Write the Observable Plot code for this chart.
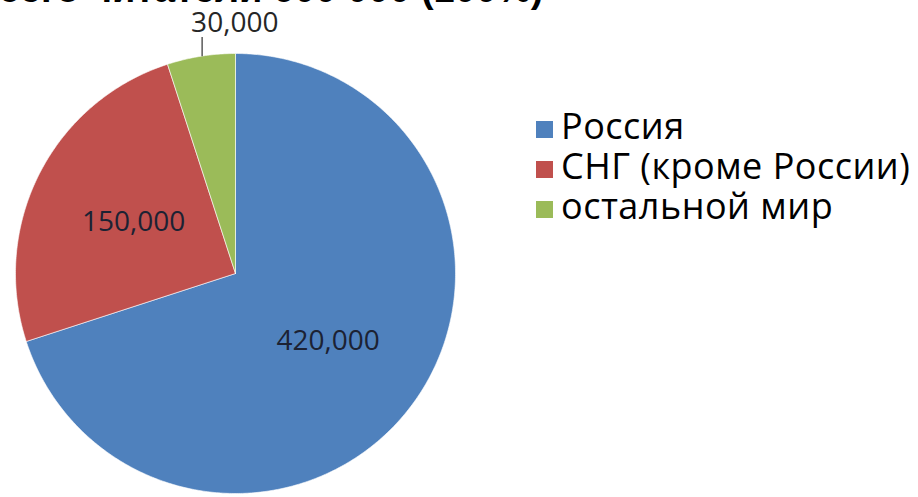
<!DOCTYPE html>
<html><head><meta charset="utf-8">
<script src="https://cdn.jsdelivr.net/npm/d3@7"></script>
<script src="https://cdn.jsdelivr.net/npm/@observablehq/plot@0.6"></script>
<style>
body{margin:0;background:#fff;overflow:hidden}
#wrap{position:relative;width:918px;height:497px;overflow:hidden}
#chart{position:absolute;left:0;top:0}
#title{position:absolute;left:0;top:-30px;font:bold 38px "Liberation Sans";line-height:38px;white-space:nowrap;color:#000}
#legend{position:absolute;left:536px;top:106px;font:36px "Open Sans";letter-spacing:0.5px;color:#000}
#legend .row{height:40px;line-height:40px;white-space:nowrap}
#legend .sw{display:inline-block;width:17px;height:17px;margin-right:8px;vertical-align:1px}
</style></head><body><div id="wrap"><div id="chart"></div><div id="title"></div><div id="legend"></div></div>
<script>
const titlePrefix = "Всего читатели ";
const titleValue = "600 000 (100%)";
const categories = ["Россия", "СНГ (кроме России)", "остальной мир"];
const values = [420000, 150000, 30000];
const valueLabels = ["420,000", "150,000", "30,000"];
const colors = ["#4F81BD", "#C0504D", "#9BBB59"];

const arcs = d3.pie().sort(null).value(d => d)(values);
const total = d3.sum(values);

// slice outlines (geometry derived from the pie angles)
const pts = [];
arcs.forEach((a, i) => {
  const n = Math.max(2, Math.ceil((a.endAngle - a.startAngle) / 0.01));
  pts.push({name: categories[i], x: 0, y: 0});
  for (let k = 0; k <= n; k++) {
    const t = a.startAngle + (a.endAngle - a.startAngle) * k / n;
    pts.push({name: categories[i], x: Math.sin(t), y: Math.cos(t)});
  }
  pts.push({name: categories[i], x: 0, y: 0});
});

const inside = [], outside = [];
arcs.forEach((a, i) => {
  const mid = (a.startAngle + a.endAngle) / 2;
  if (values[i] / total >= 0.1) {
    inside.push({x: Math.sin(mid) * 0.52, y: Math.cos(mid) * 0.52, text: valueLabels[i]});
  } else {
    const x = Math.sin(mid) * 0.97;
    outside.push({x, y1: Math.cos(mid), y2: 1.075, ty: 1.14, text: valueLabels[i]});
  }
});

const chart = Plot.plot({
  width: 918, height: 497,
  marginLeft: 15, marginRight: 463, marginTop: 53, marginBottom: 4,
  x: {domain: [-1, 1], axis: null},
  y: {domain: [-1, 1], axis: null},
  color: {domain: categories, range: colors},
  style: {overflow: "visible", background: "transparent"},
  marks: [
    Plot.line(pts, {x: "x", y: "y", z: "name", fill: "name", stroke: "white", strokeWidth: 1, strokeOpacity: 0.6, curve: "linear"}),
    Plot.text(inside, {x: "x", y: "y", text: "text", fontSize: 28, fill: "#1c2233", fontFamily: "Open Sans"}),
    Plot.link(outside, {x1: "x", x2: "x", y1: "y1", y2: "y2", stroke: "#404040", strokeWidth: 1.3}),
    Plot.text(outside, {x: "x", y: "ty", dx: -11, textAnchor: "start", text: "text", fontSize: 28, fill: "#262626", fontFamily: "Open Sans"})
  ]
});
document.getElementById("chart").appendChild(chart);

const t = document.getElementById("title");
t.textContent = titlePrefix + titleValue;
const ctx = document.createElement("canvas").getContext("2d");
ctx.font = 'bold 38px "Liberation Sans"';
t.style.left = (273 - ctx.measureText(titlePrefix).width) + "px";

const lg = d3.select("#legend");
categories.forEach((c, i) => {
  const r = lg.append("div").attr("class", "row");
  r.append("span").attr("class", "sw").style("background", colors[i]);
  r.append("span").text(c);
});
</script></body></html>
